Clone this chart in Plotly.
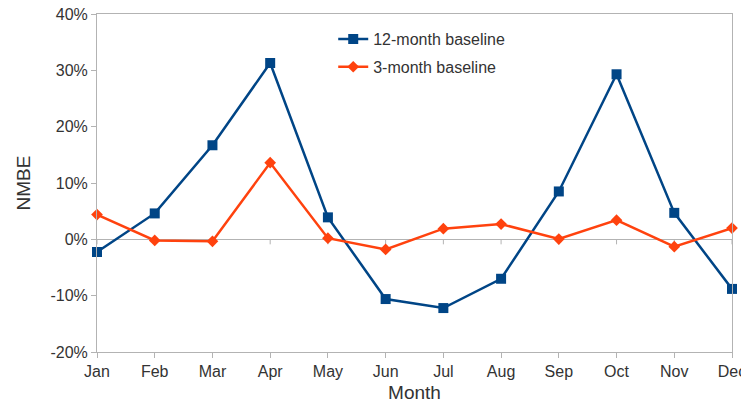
import plotly.graph_objects as go

months = ['Jan', 'Feb', 'Mar', 'Apr', 'May', 'Jun', 'Jul', 'Aug', 'Sep', 'Oct', 'Nov', 'Dec']
baseline_12 = [-2.25, 4.6, 16.7, 31.3, 3.9, -10.6, -12.2, -7.0, 8.5, 29.3, 4.7, -8.8]
baseline_3 = [4.4, -0.2, -0.35, 13.6, 0.2, -1.8, 1.9, 2.7, 0.05, 3.4, -1.3, 2.0]
y_ticks = [-20, -10, 0, 10, 20, 30, 40]

axis_grey = '#b3b3b3'
text_col = '#333333'

fig = go.Figure()
fig.add_trace(go.Scatter(
    x=months, y=baseline_12, name='12-month baseline', mode='lines+markers',
    line=dict(color='#004586', width=2.5),
    marker=dict(symbol='square', size=10, color='#004586'),
    cliponaxis=False, legend='legend'
))
fig.add_trace(go.Scatter(
    x=months, y=baseline_3, name='3-month baseline', mode='lines+markers',
    line=dict(color='#ff420e', width=2.5),
    marker=dict(symbol='diamond', size=9, color='#ff420e'),
    cliponaxis=False, legend='legend2'
))

# little ticks on the zero line, like the spreadsheet axis
for i, m in enumerate(months):
    fig.add_shape(type='line', xref='x', yref='y', x0=i, x1=i,
                  ysizemode='pixel', yanchor=0, y0=0, y1=-5,
                  line=dict(color=axis_grey, width=1), layer='below')

leg = dict(xanchor='left', yanchor='top', bgcolor='rgba(0,0,0,0)',
           font=dict(size=16, color=text_col), itemwidth=30)

# page body has an 8px margin, so the figure is a bit smaller than the window
fig.update_layout(
    width=741, height=395,
    margin=dict(l=89, r=17, t=6, b=51),
    paper_bgcolor='white', plot_bgcolor='white',
    font=dict(family='Liberation Sans, Arial, sans-serif', size=16, color=text_col),
    showlegend=True,
    legend=dict(x=0.372, y=0.976, **leg),
    legend2=dict(x=0.372, y=0.894, **leg)
)
fig.update_xaxes(
    type='category', range=[0, 11], automargin=False,
    title=dict(text='Month', standoff=8),
    showgrid=False, showline=True, linecolor=axis_grey, linewidth=1, mirror=True,
    ticks='outside', ticklen=5, tickcolor=axis_grey, zeroline=False
)
fig.update_yaxes(
    range=[-20, 40], tickvals=y_ticks, ticktext=[f'{v}%' for v in y_ticks],
    automargin=False, ticklabeloverflow='allow',
    title=dict(text='NMBE', standoff=14),
    showgrid=False, showline=True, linecolor=axis_grey, linewidth=1, mirror=True,
    ticks='outside', ticklen=5, tickcolor=axis_grey,
    zeroline=True, zerolinecolor=axis_grey, zerolinewidth=1
)

fig.write_html('out.html')
